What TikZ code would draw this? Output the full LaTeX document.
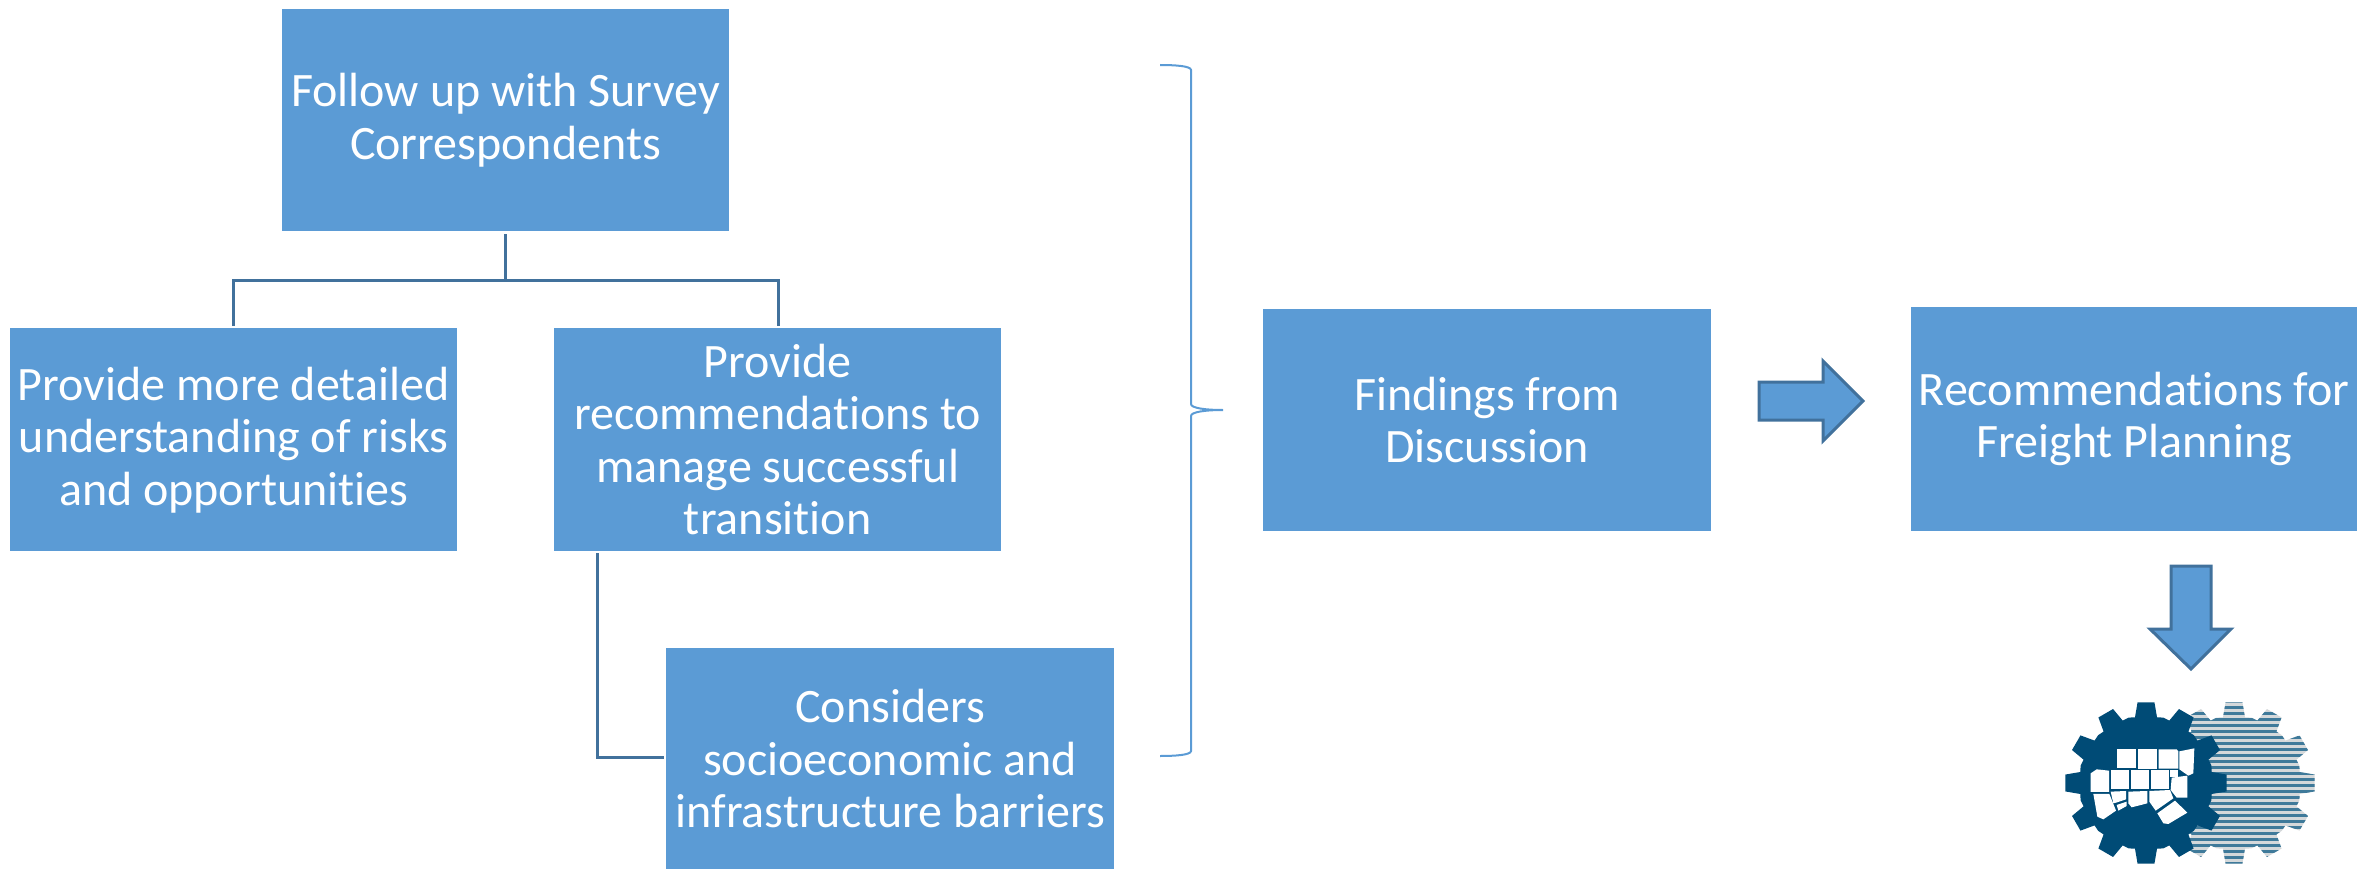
\documentclass[tikz,border=0pt]{standalone}
\usepackage{fontspec}
\setmainfont{Carlito}[Ligatures=NoCommon]
\definecolor{boxblue}{HTML}{5B9BD5}
\definecolor{lineblue}{HTML}{41719C}
\definecolor{geardark}{HTML}{004B76}
\definecolor{stripe}{HTML}{3F7A9A}
\definecolor{stripebg}{HTML}{D4D8DA}
\tikzset{
 flowbox/.style={fill=boxblue,draw=none,text=white,align=center,inner sep=0pt,font=\fontsize{48}{52.5}\selectfont,anchor=north west},
 treeline/.style={draw=lineblue,line width=3pt},
 bracel/.style={draw=boxblue,line width=2pt},
 blockarrow/.style={fill=boxblue,draw=lineblue,line width=3pt,line join=miter},
 statepoly/.style={fill=white,draw=none}
}
\newcommand{\gearshape}{(90-9.5:200) \foreach \a in {90,120,...,420}{ -- (\a-9.5:200) -- (\a-6:243) -- (\a+6:243) -- (\a+9.5:200) -- (\a+15:203)} -- cycle}
\begin{document}
\begin{tikzpicture}[x=1pt,y=-1pt]
\useasboundingbox (0,0) rectangle (2374,872);
\node[flowbox,minimum width=447pt,minimum height=222pt] (top) at (282,9) {};
\node[text=white,align=center,font=\fontsize{48}{52.5}\selectfont] (toptxt) at (505.5,120) {Follow up with Survey\\Correspondents};
\node[flowbox,minimum width=447pt,minimum height=223pt] (left) at (10,328) {Provide more detailed\\understanding of risks\\and opportunities};
\node[flowbox,minimum width=447pt,minimum height=223pt] (mid) at (554,328) {Provide\\recommendations to\\manage successful\\transition};
\node[flowbox,minimum width=448pt,minimum height=221pt] (bot) at (666,648) {Considers\\socioeconomic and\\infrastructure barriers};
\node[flowbox,minimum width=448pt,minimum height=222pt] (find) at (1263,309) {Findings from\\Discussion};
\node[flowbox,minimum width=446pt,minimum height=224pt] (rec) at (1911,307) {Recommendations for\\Freight Planning};
\coordinate (t0) at (505.5,234);
\coordinate (bus) at (505.5,280);
\draw[treeline] (t0) -- (bus);
\draw[treeline] (233.5,326) |- (778,280) -- (778,326);
\draw[treeline] (597,553) |- (664,757);
\draw[bracel] (1160,65) .. controls (1175,65) and (1191,66) .. (1191,70) -- (1191,404) .. controls (1191,408) and (1205,410) .. (1223,410) .. controls (1205,410) and (1191,412) .. (1191,416) -- (1191,751) .. controls (1191,755) and (1175,756) .. (1160,756);
\draw[blockarrow] (1759,382) -- (1823,382) -- (1823,361) -- (1863,401) -- (1823,441) -- (1823,420) -- (1759,420) -- cycle;
\draw[blockarrow] (2171,566) -- (2211,566) -- (2211,629) -- (2231,629) -- (2191,669) -- (2150,629) -- (2171,629) -- cycle;
\begin{scope}[shift={(2020,680)},x=0.3333pt,y=-0.3333pt]
\begin{scope}
\clip[shift={(642,309)}] \gearshape;
\fill[stripebg] (390,50) rectangle (900,570);
\foreach \k in {0,...,28}{\fill[stripe] (390,{60+\k*18}) rectangle (900,{60+\k*18+9});}
\end{scope}
\fill[geardark,shift={(378,309)}] \gearshape;
\fill[statepoly] (290,208) -- (347,208) -- (347,265) -- (290,265) -- cycle;
\fill[statepoly] (353,208) -- (410,208) -- (410,266) -- (353,266) -- cycle;
\fill[statepoly] (416,208) -- (470,208) -- (475,214) -- (475,266) -- (416,266) -- cycle;
\fill[statepoly] (478,214) -- (523,205) -- (520,280) -- (505,287) -- (478,268) -- cycle;
\fill[statepoly] (212,280) -- (230,268) -- (267,272) -- (267,336) -- (212,336) -- cycle;
\fill[statepoly] (272,270) -- (328,270) -- (328,328) -- (272,328) -- cycle;
\fill[statepoly] (333,270) -- (388,270) -- (388,328) -- (333,328) -- cycle;
\fill[statepoly] (393,270) -- (447,270) -- (447,328) -- (393,328) -- cycle;
\fill[statepoly] (450,270) -- (475,270) -- (475,290) -- (450,290) -- cycle;
\fill[statepoly] (455,293) -- (502,287) -- (502,353) -- (470,353) -- (452,330) -- cycle;
\fill[statepoly] (220,342) -- (268,342) -- (288,392) -- (250,418) -- (232,410) -- cycle;
\fill[statepoly] (272,335) -- (318,333) -- (318,358) -- (288,368) -- (280,370) -- cycle;
\fill[statepoly] (290,375) -- (320,365) -- (320,378) -- (295,392) -- cycle;
\fill[statepoly] (325,335) -- (382,333) -- (382,370) -- (335,382) -- (325,370) -- cycle;
\fill[statepoly] (388,333) -- (450,330) -- (460,355) -- (407,392) -- (388,365) -- cycle;
\fill[statepoly] (412,400) -- (465,362) -- (502,398) -- (445,432) -- (430,430) -- cycle;
\end{scope}
\end{tikzpicture}
\end{document}
